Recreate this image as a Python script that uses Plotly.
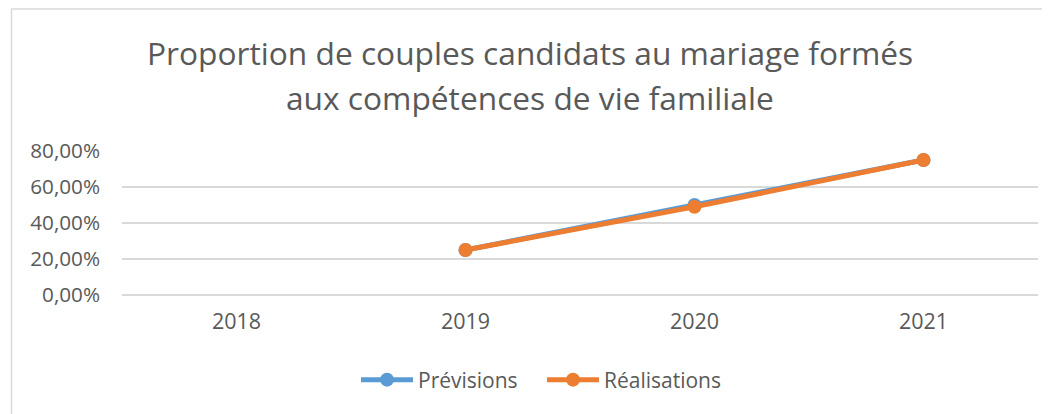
import plotly.graph_objects as go

years = ["2018", "2019", "2020", "2021"]
previsions = [None, 0.25, 0.50, 0.75]
realisations = [None, 0.25, 0.49, 0.75]
y_ticks = [0, 0.2, 0.4, 0.6, 0.8]
title_lines = ["Proportion de couples candidats au mariage formés",
               "aux compétences de vie familiale"]

# page offset (body margin) compensation
OFF = 8
W, H = 1050, 414
L, R, T, B = 122 - OFF, 12 + OFF, 151 - OFF, 119 + OFF
pw, ph = W - L - R, H - T - B

def px(x):
    return (x - OFF - L) / pw

def py(y):
    return (H - B - (y - OFF)) / ph

FONT = "Open Sans, Segoe UI, sans-serif"
GREY = "#595959"

fig = go.Figure()
fig.add_trace(go.Scatter(
    x=years, y=previsions, name="Prévisions", mode="lines+markers",
    line=dict(color="#5B9BD5", width=5), marker=dict(size=14, color="#5B9BD5"),
))
fig.add_trace(go.Scatter(
    x=years, y=realisations, name="Réalisations", mode="lines+markers",
    line=dict(color="#ED7D31", width=5), marker=dict(size=14, color="#ED7D31"),
))

annotations = []
for i, t in enumerate(title_lines):
    annotations.append(dict(
        text=t, xref="paper", yref="paper", x=px(530), y=py(52 + 45 * i),
        xanchor="center", yanchor="middle", showarrow=False,
        font=dict(family=FONT, size=31.7, color=GREY),
    ))

fig.update_layout(
    width=W, height=H,
    margin=dict(l=L, r=R, t=T, b=B, pad=0),
    paper_bgcolor="white", plot_bgcolor="white",
    separators=", ",
    font=dict(family=FONT, color=GREY, size=18),
    showlegend=True,
    legend=dict(orientation="h", x=px(356), y=py(380), xanchor="left", yanchor="middle",
                font=dict(size=21, color=GREY), itemwidth=52, entrywidth=119,
                tracegroupgap=0),
    annotations=annotations,
    shapes=[dict(type="rect", xref="paper", yref="paper",
                 x0=px(11.5), x1=px(1070), y0=py(max(6.5, OFF + 1)), y1=py(450),
                 line=dict(color="#D9D9D9", width=1.5), layer="below")],
    xaxis=dict(type="category", range=[-0.5, 3.5], showgrid=False, zeroline=False,
               showline=False, ticks="", tickfont=dict(size=21.5, color=GREY), ticklabelstandoff=11),
    yaxis=dict(range=[0, 0.8], tickvals=y_ticks, tickformat=".2%",
               showgrid=True, gridcolor="#D9D9D9", gridwidth=1.5,
               zeroline=True, zerolinecolor="#D9D9D9", zerolinewidth=1.5,
               showline=False, ticks="", tickfont=dict(size=20.7, color=GREY), ticklabelstandoff=21),
)

fig.write_html("out.html")
